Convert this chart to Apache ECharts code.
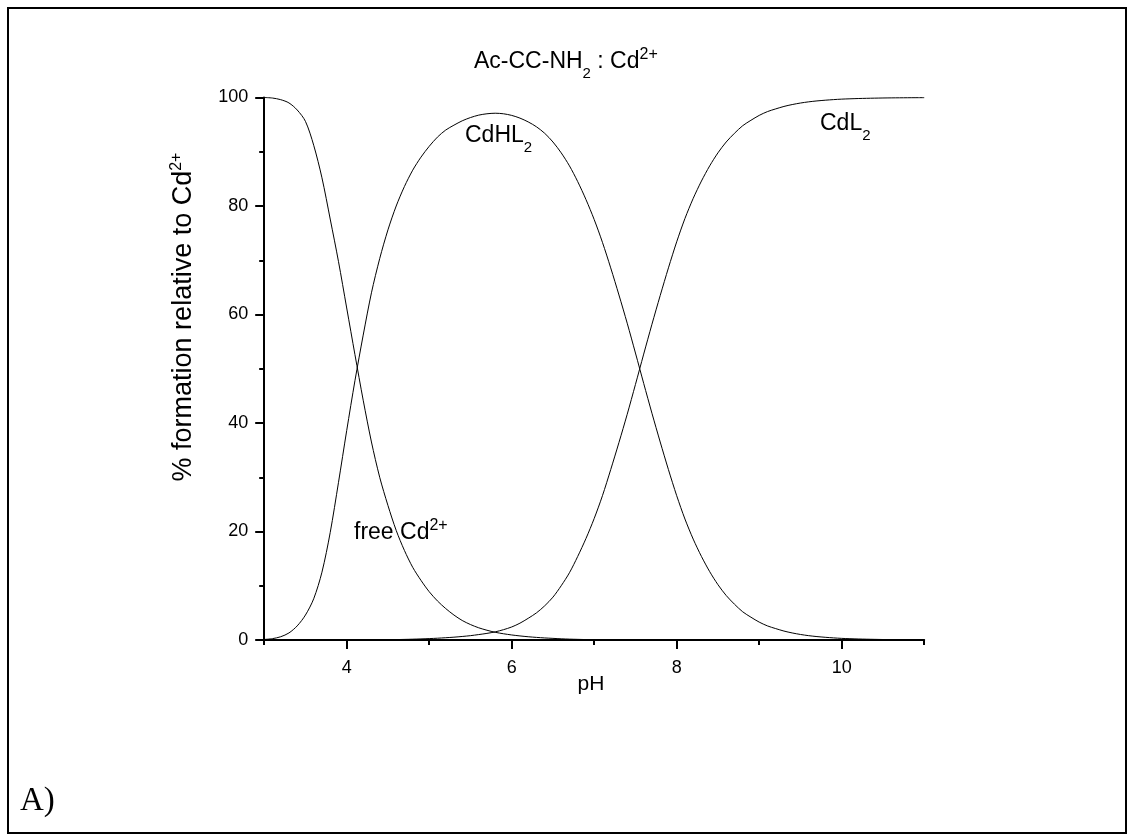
<!DOCTYPE html>
<html>
<head>
<meta charset="utf-8">
<title>Ac-CC-NH2 : Cd2+ species distribution</title>
<script src="https://cdn.jsdelivr.net/npm/echarts@6/dist/echarts.min.js"></script>
<style>
  html, body { margin: 0; padding: 0; background: #fff; }
  #chart { width: 1127px; height: 834px; }
</style>
</head>
<body>
<div id="chart"></div>
<script>
// pH grid, 0.1 steps
const pH = [
  3.0, 3.1, 3.2, 3.3, 3.4, 3.5, 3.6, 3.7, 3.8, 3.9,
  4.0, 4.1, 4.2, 4.3, 4.4, 4.5, 4.6, 4.7, 4.8, 4.9,
  5.0, 5.1, 5.2, 5.3, 5.4, 5.5, 5.6, 5.7, 5.8, 5.9,
  6.0, 6.1, 6.2, 6.3, 6.4, 6.5, 6.6, 6.7, 6.8, 6.9,
  7.0, 7.1, 7.2, 7.3, 7.4, 7.5, 7.6, 7.7, 7.8, 7.9,
  8.0, 8.1, 8.2, 8.3, 8.4, 8.5, 8.6, 8.7, 8.8, 8.9,
  9.0, 9.1, 9.2, 9.3, 9.4, 9.5, 9.6, 9.7, 9.8, 9.9,
  10.0, 10.1, 10.2, 10.3, 10.4, 10.5, 10.6, 10.7, 10.8, 10.9,
  11.0
];

// % of total Cd2+ present as each species
const freeCd = [
  100, 99.9, 99.6, 99.0, 97.7, 95.6, 91.2, 85.2, 77.6, 69.8,
  61.2, 52.6, 44.2, 36.5, 30.0, 24.8, 20.2, 16.5, 13.4, 11.0,
  8.9, 7.2, 5.8, 4.6, 3.6, 2.85, 2.25, 1.8, 1.42, 1.15,
  0.93, 0.75, 0.6, 0.48, 0.38, 0.3, 0.22, 0.16, 0.12, 0.08,
  0.06, 0.04, 0.03, 0.02, 0.01, 0.01, 0, 0, 0, 0,
  0, 0, 0, 0, 0, 0, 0, 0, 0, 0,
  0, 0, 0, 0, 0, 0, 0, 0, 0, 0,
  0, 0, 0, 0, 0, 0, 0, 0, 0, 0,
  0
];

const cdHL2 = [
  0.1, 0.25, 0.6, 1.3, 2.6, 4.6, 7.6, 12.5, 19.8, 29.0,
  38.6, 47.8, 56.2, 64.0, 70.3, 75.6, 80.0, 83.6, 86.6, 89.0,
  91.0, 92.7, 94.0, 94.9, 95.7, 96.3, 96.75, 97.0, 97.1, 97.0,
  96.7, 96.2, 95.5, 94.6, 93.4, 91.8, 89.8, 87.4, 84.5, 81.2,
  77.5, 73.3, 68.6, 63.6, 58.4, 52.9, 47.3, 41.8, 36.5, 31.4,
  26.6, 22.3, 18.6, 15.4, 12.6, 10.2, 8.2, 6.6, 5.2, 4.2,
  3.3, 2.6, 2.1, 1.65, 1.3, 1.02, 0.8, 0.63, 0.5, 0.39,
  0.3, 0.24, 0.19, 0.15, 0.12, 0.09, 0.07, 0.055, 0.045, 0.035,
  0.03
];

const cdL2 = [
  0, 0, 0, 0, 0, 0, 0, 0, 0, 0,
  0.01, 0.01, 0.02, 0.03, 0.04, 0.06, 0.08, 0.11, 0.15, 0.2,
  0.26, 0.33, 0.42, 0.52, 0.65, 0.8, 1.0, 1.22, 1.5, 1.9,
  2.4, 3.1, 4.0, 5.0, 6.3, 7.9, 10.0, 12.4, 15.4, 18.7,
  22.4, 26.6, 31.4, 36.4, 41.6, 47.1, 52.7, 58.2, 63.5, 68.6,
  73.4, 77.7, 81.4, 84.6, 87.4, 89.8, 91.8, 93.4, 94.8, 95.8,
  96.7, 97.4, 97.9, 98.35, 98.7, 98.98, 99.2, 99.37, 99.5, 99.61,
  99.7, 99.76, 99.81, 99.85, 99.88, 99.91, 99.93, 99.945, 99.955, 99.965,
  99.97
];

const xMajorTicks = [4, 6, 8, 10];
const xMinorTicks = [3, 5, 7, 9, 11];

const FONT = 'Liberation Sans, Arial, sans-serif';
const INK = '#000';

const pairs = (ys) => pH.map((x, i) => [x, ys[i]]);

const curve = (name, ys) => ({
  name: name,
  type: 'line',
  xAxisIndex: 0,
  yAxisIndex: 0,
  data: pairs(ys),
  smooth: 0.3,
  showSymbol: false,
  symbol: 'none',
  lineStyle: { color: INK, width: 1 },
  emphasis: { disabled: true },
  silent: true,
  z: 3
});

// rich-text styles for super- and subscripts
const richScripts = {
  sup: { fontSize: 16, lineHeight: 16, padding: [0, 0, 14, 0], fontFamily: FONT, fill: INK },
  sub: { fontSize: 15, lineHeight: 15, padding: [24, 0, 0, 0], fontFamily: FONT, fill: INK }
};

const text = (content, x, y, size, opts) => {
  const o = opts || {};
  return {
    type: 'text',
    x: x,
    y: y,
    rotation: o.rotation || 0,
    silent: true,
    style: {
      text: content,
      fontSize: size,
      fontFamily: o.fontFamily || FONT,
      fill: INK,
      align: o.align || 'left',
      verticalAlign: 'middle',
      rich: richScripts
    }
  };
};

const chart = echarts.init(document.getElementById('chart'), null, { renderer: 'canvas' });

chart.setOption({
  backgroundColor: '#fff',
  animation: false,
  grid: { left: 264.2, right: 202.8, top: 97.5, bottom: 194, containLabel: false },
  xAxis: [
    {
      type: 'value',
      position: 'bottom',
      min: 3, max: 11, interval: 1,
      axisLine: { show: true, onZero: false, lineStyle: { color: INK, width: 2 } },
      axisTick: { show: true, inside: false, length: 9, customValues: xMajorTicks, lineStyle: { color: INK, width: 2 } },
      axisLabel: { show: true, customValues: xMajorTicks, margin: 19, color: INK, fontSize: 18, fontFamily: FONT },
      splitLine: { show: false }
    },
    {
      type: 'value',
      position: 'bottom',
      min: 3, max: 11, interval: 1,
      axisLine: { show: false, onZero: false },
      axisTick: { show: true, inside: false, length: 5, customValues: xMinorTicks, lineStyle: { color: INK, width: 2 } },
      axisLabel: { show: false },
      splitLine: { show: false }
    }
  ],
  yAxis: {
    type: 'value',
    min: 0, max: 100, interval: 20,
    axisLine: { show: true, onZero: false, lineStyle: { color: INK, width: 2 } },
    axisTick: { show: true, inside: false, length: 9, lineStyle: { color: INK, width: 2 } },
    minorTick: { show: true, splitNumber: 2, length: 5, lineStyle: { color: INK, width: 2 } },
    axisLabel: { margin: 16, color: INK, fontSize: 18, fontFamily: FONT },
    splitLine: { show: false }
  },
  series: [
    curve('free Cd2+', freeCd),
    curve('CdHL2', cdHL2),
    curve('CdL2', cdL2)
  ],
  graphic: [
    // outer frame
    {
      type: 'rect', silent: true,
      shape: { x: 8, y: 8, width: 1118, height: 825 },
      style: { fill: 'none', stroke: INK, lineWidth: 2 }
    },
    text('Ac-CC-NH{sub|2} : Cd{sup|2+}', 474, 62, 23),
    text('% formation relative to Cd{sup|2+}', 184, 317, 27, { rotation: Math.PI / 2, align: 'center' }),
    text('pH', 591, 684, 21, { align: 'center' }),
    text('CdHL{sub|2}', 465, 136, 23),
    text('CdL{sub|2}', 820, 124, 23),
    text('free Cd{sup|2+}', 354, 533, 23),
    text('A)', 20, 801, 33, { fontFamily: 'Liberation Serif, Times New Roman, serif' })
  ]
});
</script>
</body>
</html>
